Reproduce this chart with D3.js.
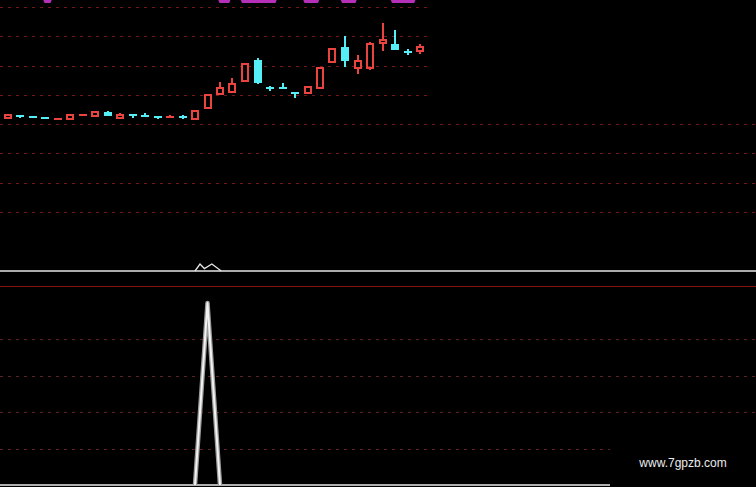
<!DOCTYPE html>
<html>
<head>
<meta charset="utf-8">
<script src="https://cdn.jsdelivr.net/npm/d3@7"></script>
<style>
  html, body { margin: 0; padding: 0; background: #000; }
  svg { display: block; }
</style>
</head>
<body>
<svg id="chart" width="756" height="487"></svg>
<script>
// Daily bars: open, high, low, close
const opens  = [9.60, 9.64, 9.63, 9.61, 9.58, 9.59, 9.65, 9.63, 9.71, 9.60, 9.66, 9.64, 9.63, 9.62, 9.64, 9.58, 9.77,
                10.01, 10.05, 10.24, 10.60, 10.12, 10.12, 10.04, 10.03, 10.11, 10.56, 10.82, 10.45, 10.45, 10.89, 10.87, 10.74, 10.75];
const highs  = [9.67, 9.65, 9.64, 9.62, 9.59, 9.65, 9.67, 9.71, 9.72, 9.69, 9.67, 9.69, 9.63, 9.66, 9.66, 9.72, 10.00,
                10.22, 10.28, 10.52, 10.62, 10.15, 10.20, 10.04, 10.14, 10.45, 10.79, 11.01, 10.68, 10.90, 11.22, 11.11, 10.78, 10.86];
const lows   = [9.58, 9.61, 9.62, 9.60, 9.58, 9.59, 9.65, 9.63, 9.64, 9.60, 9.60, 9.63, 9.59, 9.60, 9.59, 9.58, 9.77,
                10.00, 10.03, 10.24, 10.19, 10.07, 10.11, 9.95, 10.03, 10.11, 10.56, 10.48, 10.35, 10.42, 10.74, 10.77, 10.68, 10.69];
const closes = [9.65, 9.63, 9.62, 9.60, 9.58, 9.65, 9.66, 9.71, 9.64, 9.66, 9.65, 9.63, 9.62, 9.63, 9.61, 9.72, 10.00,
                10.12, 10.18, 10.52, 10.20, 10.11, 10.11, 10.03, 10.14, 10.45, 10.79, 10.57, 10.58, 10.86, 10.94, 10.77, 10.72, 10.82];

// Price grid levels
const priceGridUpper = [10.0, 10.5, 11.0, 11.5];
const priceGridLower = [8.0, 8.5, 9.0, 9.5];

// Signal strip: [bar position, value]
const signalPoints = [[15, 0], [15.4, 1], [15.75, 0.35], [16.35, 1], [17.1, 0]];

// Lower indicator, one value per bar
const indicator = [0, 0, 0, 0, 0, 0, 0, 0, 0, 0, 0, 0, 0, 0, 0, 0, 5,
                   0, 0, 0, 0, 0, 0, 0, 0, 0, 0, 0, 0, 0, 0, 0, 0, 0];
const indicatorGrid = [1, 2, 3, 4];

// Header glyph spans (bar positions) peeking in from above
const headerSpans = [[2.8, 3.6], [16.8, 17.9], [18.6, 21.6], [23.6, 25.0], [26.6, 28.0], [30.6, 32.7]];

const watermark = "www.7gpzb.com";

const W = 756, H = 487;
const svg = d3.select("#chart");
svg.append("rect").attr("width", W).attr("height", H).attr("fill", "#000");

const n = closes.length;
const x = d3.scaleLinear().domain([0, n - 1]).range([7.5, 420]);
const yP = d3.scaleLinear().domain([8, 11.5]).range([212, 6.9]);
const yS = d3.scaleLinear().domain([0, 1]).range([271, 264]);
const yI = d3.scaleLinear().domain([0, 5]).range([485, 303]);

const RED = "#ea4440", CYAN = "#55eef6";

// price grid
const grid = svg.append("g").attr("shape-rendering", "crispEdges")
  .attr("stroke", "#761616").attr("stroke-width", 1).attr("stroke-dasharray", "3,5");
grid.selectAll("line.u").data(priceGridUpper).join("line").attr("class", "u")
  .attr("x1", 0).attr("x2", 427).attr("y1", d => Math.round(yP(d)) + 0.5).attr("y2", d => Math.round(yP(d)) + 0.5);
grid.selectAll("line.l").data(priceGridLower).join("line").attr("class", "l")
  .attr("x1", 0).attr("x2", W).attr("y1", d => Math.round(yP(d)) + 0.5).attr("y2", d => Math.round(yP(d)) + 0.5);

// header glyphs
svg.append("g").selectAll("path").data(headerSpans).join("path")
  .attr("fill", "#b52fb8")
  .attr("d", ([a, b]) => {
    const x0 = x(a), x1 = x(b);
    return `M${x0},-2 L${x1},-2 L${x1 - 2},3 L${x0 + 2},3 Z`;
  });

// candles
const bars = d3.range(n).map(i => ({ i, o: opens[i], h: highs[i], l: lows[i], c: closes[i] }));
const cg = svg.append("g").attr("shape-rendering", "crispEdges");
const bw = 8, sw = 2;
bars.forEach(d => {
  const up = d.c >= d.o;
  const col = up ? RED : CYAN;
  const cx = Math.round(x(d.i));
  const top = yP(Math.max(d.o, d.c)), bot = yP(Math.min(d.o, d.c));
  const g = cg.append("g");
  if (up) {
    g.append("line").attr("x1", cx).attr("x2", cx).attr("y1", yP(d.h)).attr("y2", top).attr("stroke", col).attr("stroke-width", sw);
    g.append("line").attr("x1", cx).attr("x2", cx).attr("y1", bot).attr("y2", yP(d.l)).attr("stroke", col).attr("stroke-width", sw);
  } else {
    g.append("line").attr("x1", cx).attr("x2", cx).attr("y1", yP(d.h)).attr("y2", yP(d.l)).attr("stroke", col).attr("stroke-width", sw);
  }
  if (bot - top < 2) {
    g.append("line").attr("x1", cx - bw / 2).attr("x2", cx + bw / 2)
      .attr("y1", (top + bot) / 2).attr("y2", (top + bot) / 2).attr("stroke", col).attr("stroke-width", 2);
  } else if (up) {
    g.append("rect").attr("x", cx - bw / 2 + 1).attr("y", top).attr("width", bw - 2).attr("height", bot - top)
      .attr("fill", "none").attr("stroke", col).attr("stroke-width", sw);
  } else {
    g.append("rect").attr("x", cx - bw / 2).attr("y", top).attr("width", bw).attr("height", bot - top)
      .attr("fill", col);
  }
});

// signal strip
svg.append("line").attr("x1", 0).attr("x2", W).attr("y1", yS(0)).attr("y2", yS(0))
  .attr("stroke", "#e6e6e6").attr("stroke-width", 1.5);
svg.append("path").datum(signalPoints)
  .attr("fill", "none").attr("stroke", "#e6e6e6").attr("stroke-width", 1.3)
  .attr("d", d3.line().x(d => x(d[0])).y(d => yS(d[1])));

// panel divider
svg.append("line").attr("x1", 0).attr("x2", W).attr("y1", 286.5).attr("y2", 286.5)
  .attr("stroke", "#8a1212").attr("stroke-width", 1.2);

// indicator grid
svg.append("g").attr("shape-rendering", "crispEdges")
  .selectAll("line").data(indicatorGrid).join("line")
  .attr("x1", 0).attr("x2", W).attr("y1", d => Math.round(yI(d)) + 0.5).attr("y2", d => Math.round(yI(d)) + 0.5)
  .attr("stroke", "#5e2222").attr("stroke-width", 1).attr("stroke-dasharray", "3,5");

// indicator zero line and curve
svg.append("line").attr("x1", 0).attr("x2", W).attr("y1", yI(0)).attr("y2", yI(0))
  .attr("stroke", "#b0b0b0").attr("stroke-width", 2);
const peakLine = d3.line().defined((d, i) => d > 0 || indicator[i - 1] > 0 || indicator[i + 1] > 0)
  .x((d, i) => x(i)).y(d => yI(d));
svg.append("path").datum(indicator)
  .attr("fill", "none").attr("stroke", "#9a9a9a").attr("stroke-width", 4.5).attr("stroke-linejoin", "round")
  .attr("d", peakLine);
svg.append("path").datum(indicator)
  .attr("fill", "none").attr("stroke", "#f2f2f2").attr("stroke-width", 2).attr("stroke-linejoin", "round")
  .attr("d", peakLine);

// watermark
svg.append("rect").attr("x", 610).attr("y", 444).attr("width", W - 610).attr("height", H - 444).attr("fill", "#000");
svg.append("text").attr("x", 683).attr("y", 467).attr("text-anchor", "middle")
  .attr("font-family", "Liberation Sans, Arial, sans-serif").attr("font-size", 12)
  .attr("fill", "#ececec").text(watermark);
</script>
</body>
</html>
